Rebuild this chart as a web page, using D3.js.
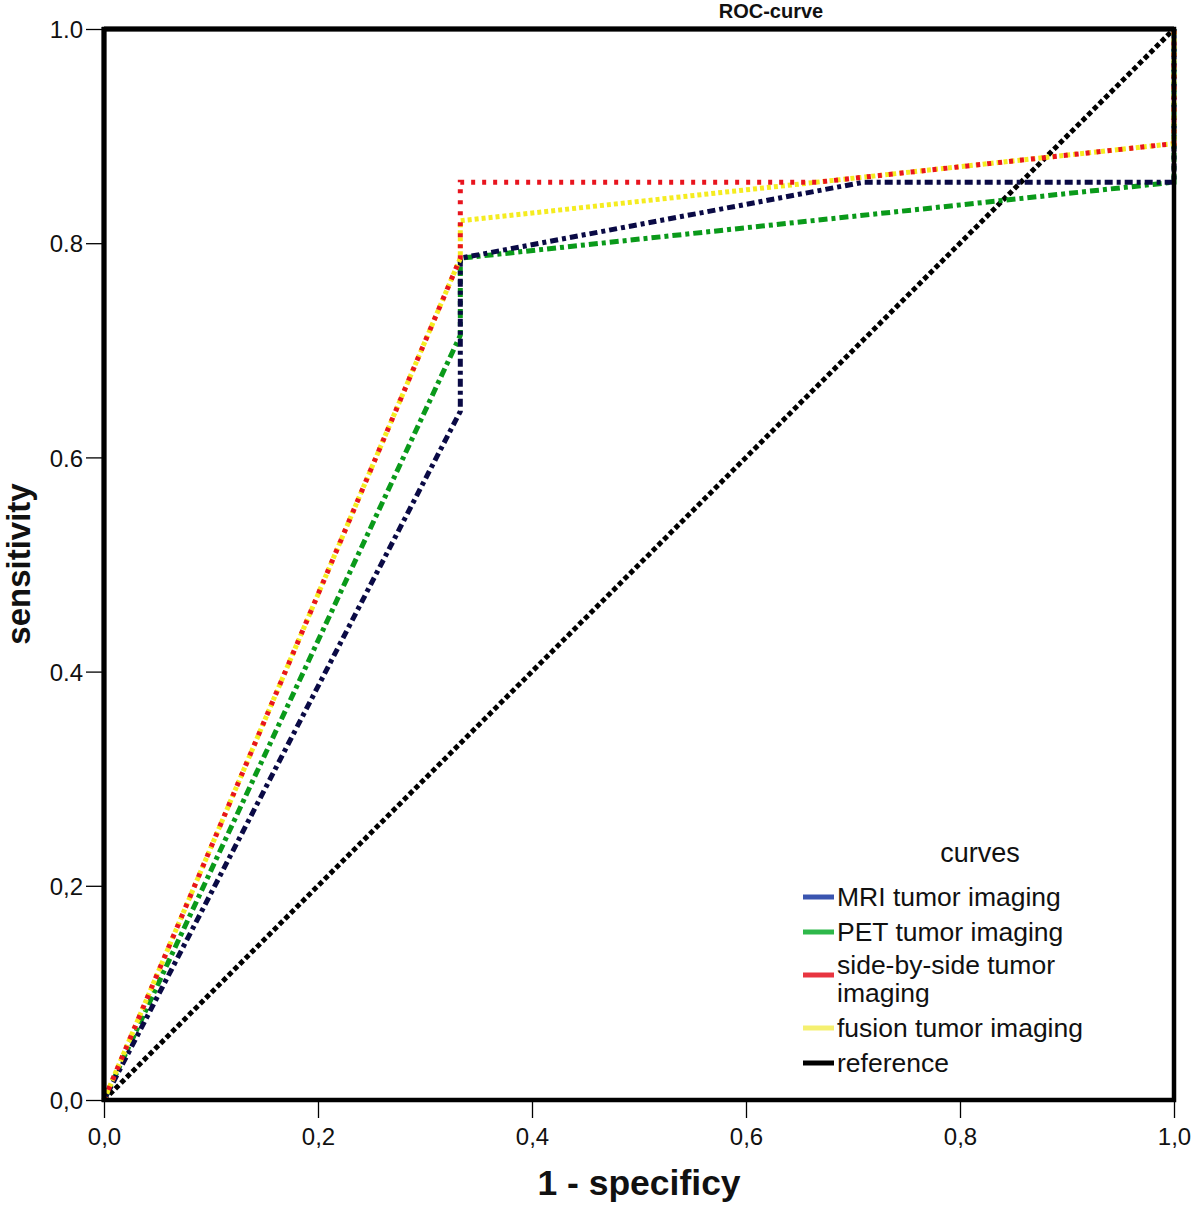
<!DOCTYPE html>
<html><head><meta charset="utf-8">
<script src="https://cdn.jsdelivr.net/npm/d3@7/dist/d3.min.js"></script>
<style>body{margin:0;background:#fff}svg{display:block;font-family:"Liberation Sans",Arial,sans-serif}</style>
</head><body><svg id="c" width="1200" height="1208"></svg>
<script>
// Data
const seriesNames = ["MRI tumor imaging","PET tumor imaging","side-by-side tumor imaging","fusion tumor imaging","reference"];
const mriX = [0, 0.333, 0.333, 0.71, 1, 1];
const mriY = [0, 0.643, 0.786, 0.857, 0.857, 1];
const petX = [0, 0.333, 0.333, 1, 1];
const petY = [0, 0.714, 0.786, 0.857, 1];
const sbsX = [0, 0.333, 0.333, 0.667, 1, 1];
const sbsY = [0, 0.786, 0.857, 0.857, 0.893, 1];
const fusX = [0, 0.333, 0.333, 1, 1];
const fusY = [0, 0.786, 0.821, 0.893, 1];
const refX = [0, 1];
const refY = [0, 1];
const xTickLabels = ["0,0","0,2","0,4","0,6","0,8","1,0"];
const yTickLabels = ["0,0","0,2","0.4","0.6","0.8","1.0"];
const tickValues = [0,0.2,0.4,0.6,0.8,1.0];

const svg = d3.select("#c");
const L=104, R=1174, T=29, B=1100;
const x = d3.scaleLinear().domain([0,1]).range([L,R]);
const y = d3.scaleLinear().domain([0,1]).range([B,T]);

// axes ticks
const xAxis = d3.axisBottom(x).tickValues(tickValues).tickSize(18).tickFormat((d,i)=>xTickLabels[i]);
const gx = svg.append("g").attr("transform",`translate(0,${B})`).call(xAxis);
gx.select(".domain").remove();
gx.selectAll(".tick line").attr("stroke","#000").attr("stroke-width",1.3);
gx.selectAll(".tick text").attr("font-size",24).attr("fill","#111").attr("dy","1.0em").attr("font-family","Liberation Sans, Arial");

const yAxis = d3.axisLeft(y).tickValues(tickValues).tickSize(18).tickFormat((d,i)=>yTickLabels[i]);
const gy = svg.append("g").attr("transform",`translate(${L},0)`).call(yAxis);
gy.select(".domain").remove();
gy.selectAll(".tick line").attr("stroke","#000").attr("stroke-width",1.3);
gy.selectAll(".tick text").attr("font-size",24).attr("fill","#111").attr("x",-21).attr("dy","0.36em").attr("font-family","Liberation Sans, Arial");

const line = d3.line().x(d=>x(d[0])).y(d=>y(d[1]));
const zip=(a,b)=>a.map((v,i)=>[v,b[i]]);

const series = [
  {pts: zip(refX,refY), color:"#000", dash:"5,3", w:5},
  {pts: zip(petX,petY), color:"#0a9a1a", dash:"9,4,4,4", w:5},
  {pts: zip(mriX,mriY), color:"#0a0a45", dash:"8,4,4,4", w:5},
  {pts: zip(fusX,fusY), color:"#f5ec20", dash:"4,3", w:5},
  {pts: zip(sbsX,sbsY), color:"#e8141e", dash:"4,7", w:5}
];
series.forEach(s=>{
  svg.append("path").attr("d",line(s.pts)).attr("fill","none")
    .attr("stroke",s.color).attr("stroke-width",s.w).attr("stroke-dasharray",s.dash);
});

// frame
svg.append("rect").attr("x",x(0)).attr("y",y(1)).attr("width",x(1)-x(0)).attr("height",y(0)-y(1))
  .attr("fill","none").attr("stroke","#000").attr("stroke-width",4.5);
svg.append("line").attr("x1",x(0)).attr("x2",x(0)).attr("y1",y(1)-2).attr("y2",y(0)+2).attr("stroke","#000").attr("stroke-width",5);
svg.append("line").attr("x1",x(0)).attr("x2",x(1)).attr("y1",y(1)).attr("y2",y(1)).attr("stroke","#000").attr("stroke-width",5);

// titles
svg.append("text").attr("x",771).attr("y",18).attr("text-anchor","middle").attr("font-size",20).attr("font-weight","bold").attr("fill","#111").text("ROC-curve");
svg.append("text").attr("x",(L+R)/2).attr("y",1195).attr("text-anchor","middle").attr("font-size",35.5).attr("font-weight","bold").attr("fill","#111").text("1 - specificy");
svg.append("text").attr("transform",`translate(30,${564}) rotate(-90)`).attr("text-anchor","middle").attr("font-size",33).attr("font-weight","bold").attr("fill","#111").text("sensitivity");

// legend
const legColors = ["#3a55b0","#2eb84a","#e83540","#f5f070","#000"];
const legLabels = [["MRI tumor imaging"],["PET tumor imaging"],["side-by-side tumor","imaging"],["fusion tumor imaging"],["reference"]];
const legY = [897, 932, 975, 1028, 1063];
svg.append("text").attr("x",980).attr("y",862).attr("text-anchor","middle").attr("font-size",27).attr("fill","#111").text("curves");
legLabels.forEach((lab,i)=>{
  const yy = legY[i];
  svg.append("line").attr("x1",803).attr("x2",834).attr("y1",yy).attr("y2",yy).attr("stroke",legColors[i]).attr("stroke-width",5);
  const t = svg.append("text").attr("x",837).attr("font-size",26.5).attr("fill","#111");
  if(lab.length===1){ t.attr("y",yy+9).text(lab[0]); }
  else {
    t.append("tspan").attr("x",837).attr("y",yy-1).text(lab[0]);
    t.append("tspan").attr("x",837).attr("y",yy+27).text(lab[1]);
  }
});
</script></body></html>
